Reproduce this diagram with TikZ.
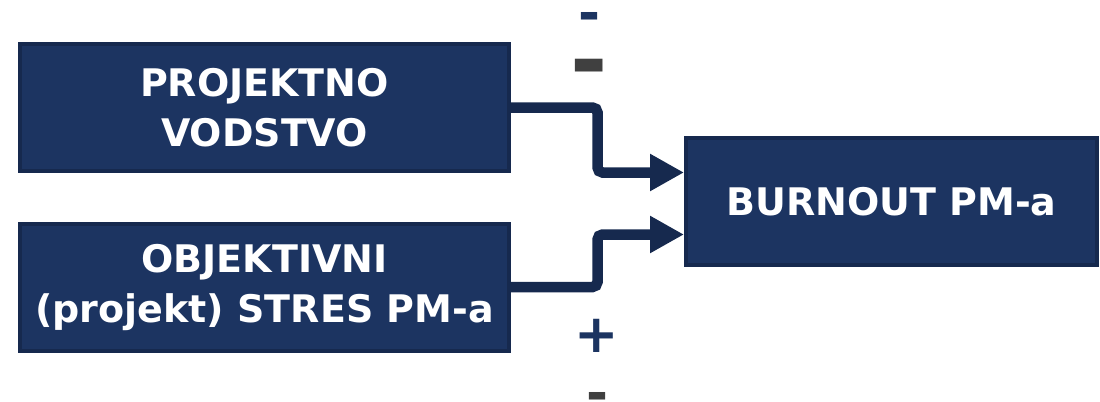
\documentclass[tikz,border=0pt]{standalone}
\usepackage{fontspec}
\setmainfont{DejaVu Sans}
\usetikzlibrary{arrows.meta}
\definecolor{navy}{HTML}{1C3461}
\definecolor{navyline}{HTML}{16294E}
\definecolor{signgrey}{HTML}{404040}
\tikzset{
  box/.style={rectangle, fill=navy, draw=navyline, line width=4bp, text=white,
    align=center, font=\fontsize{38bp}{50bp}\selectfont\bfseries, minimum height=127bp},
  conn/.style={navyline, line width=10.5bp, rounded corners=5bp,
    -{Triangle[length=34bp,width=35bp]}},
  sign/.style={inner sep=0pt, outer sep=0pt, anchor=north}
}
\begin{document}
\begin{tikzpicture}[x=1bp,y=-1bp]
\useasboundingbox (0,0) rectangle (1100,401);
% Boxes
\node[box, minimum width=489bp] (pv) at (264.5,107.5) {PROJEKTNO\\VODSTVO};
\node[box, minimum width=489bp] (os) at (264.5,287) {OBJEKTIVNI\\(projekt) STRES PM-a};
\node[box, minimum width=411bp] (burn) at (891.5,201.5) {BURNOUT PM-a};
% Inputs
\coordinate (inA) at ([yshift=29bp]burn.west);
\coordinate (inB) at ([yshift=-33bp]burn.west);
\draw[conn] (pv.east) -- ++(86.5,0) |- (inA);
\draw[conn] (os.east) -- ++(86.5,0) |- (inB);
% Signs
\node[sign, text=navy, font=\fontsize{53bp}{53bp}\selectfont\bfseries] (mtop) at (589.5,12) {-};
\node[sign, text=signgrey, font=\fontsize{90bp}{90bp}\selectfont\bfseries] (mmid) at (589.5,59) {-};
\node[sign, text=navy, font=\fontsize{53bp}{53bp}\selectfont\bfseries] (plus) at (597,319) {+};
\node[sign, text=signgrey, font=\fontsize{53bp}{53bp}\selectfont\bfseries] (mbot) at (597.5,392) {-};
\end{tikzpicture}
\end{document}
